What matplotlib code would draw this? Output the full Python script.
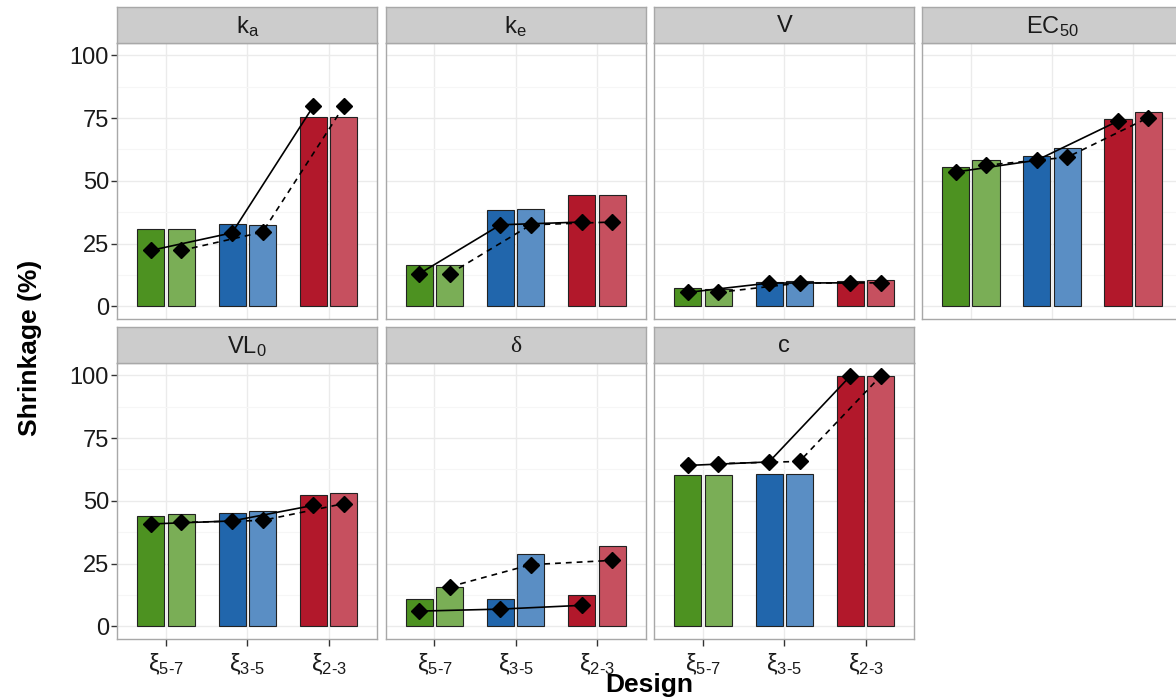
import matplotlib
matplotlib.use('Agg')
import matplotlib.pyplot as plt
import numpy as np

plt.rcParams['mathtext.fontset'] = 'custom'
plt.rcParams['mathtext.rm'] = 'Liberation Sans'
plt.rcParams['mathtext.it'] = 'Liberation Sans:italic'
plt.rcParams['mathtext.bf'] = 'Liberation Sans:bold'
plt.rcParams['font.family'] = ['Liberation Sans', 'DejaVu Sans']

# ---------------- data ----------------
parameters = [r'$\mathrm{k_a}$', r'$\mathrm{k_e}$', 'V', r'$\mathrm{EC_{50}}$',
              r'$\mathrm{VL_0}$', 'δ', 'c']
designs = [r'$\mathrm{ξ}_{5\text{-}7}$', r'$\mathrm{ξ}_{3\text{-}5}$', r'$\mathrm{ξ}_{2\text{-}3}$']

# bar heights, first (dark) and second (light) variant, per parameter
bars_1 = [[30.9, 32.7, 75.6], [16.3, 38.5, 44.5], [7.3, 9.7, 10.2], [55.6, 59.9, 74.8],
          [44.0, 45.3, 52.2], [10.9, 10.9, 12.7], [60.2, 60.7, 99.9]]
bars_2 = [[30.9, 32.5, 75.6], [16.3, 38.8, 44.5], [6.9, 10.0, 10.4], [58.2, 62.9, 77.4],
          [44.8, 46.1, 53.1], [15.8, 28.7, 32.1], [60.2, 60.8, 99.9]]
# diamond points (solid line / dashed line)
points_1 = [[22.3, 29.3, 79.7], [13.0, 32.5, 33.6], [5.6, 9.3, 9.4], [53.5, 58.2, 73.8],
            [40.8, 42.0, 48.2], [6.1, 6.9, 8.4], [64.1, 65.5, 99.7]]
points_2 = [[22.3, 29.6, 79.7], [13.0, 32.5, 33.6], [5.6, 9.3, 9.4], [56.2, 59.4, 75.2],
            [41.4, 42.2, 48.9], [15.8, 24.6, 26.3], [64.8, 65.7, 99.7]]

dark_colors = ['#4d9221', '#2166ac', '#b2182b']
light_colors = ['#7aae56', '#5a8ec4', '#c6505f']
y_ticks = [0, 25, 50, 75, 100]

# ---------------- layout ----------------
W, H = 1176, 699
fig = plt.figure(figsize=(W / 100, H / 100), dpi=100)
col_left = [117.3, 385.7, 654.3, 922.0]
pw, ph = 260.0, 276.3
strip_h = 35.4
row_strip_top = [7.3, 327.3]
border = '#a8a8a8'

x = np.arange(1, 4)
off = 0.1875
bw = 0.333

for i, name in enumerate(parameters):
    r, c = divmod(i, 4)
    left = col_left[c]
    top = row_strip_top[r] + strip_h
    ax = fig.add_axes([left / W, 1 - (top + ph) / H, pw / W, ph / H])
    sax = fig.add_axes([left / W, 1 - top / H, pw / W, strip_h / H])

    # strip
    sax.set_facecolor('#cccccc')
    sax.set_xticks([]); sax.set_yticks([])
    for sp in sax.spines.values():
        sp.set_color(border); sp.set_linewidth(1.0)
    fam = ['Liberation Serif'] if name == 'δ' else ['Liberation Sans', 'DejaVu Sans']
    sax.text(0.5, 0.47, name, ha='center', va='center', fontsize=17,
             color='#1a1a1a', family=fam, transform=sax.transAxes)

    # panel
    ax.set_xlim(0.4, 3.6)
    ax.set_ylim(-5, 105)
    ax.set_xticks(x)
    ax.set_yticks(y_ticks)
    ax.set_yticks([12.5, 37.5, 62.5, 87.5], minor=True)
    ax.set_xticks([], minor=True)
    ax.grid(which='major', color='#ebebeb', lw=1.0, zorder=0)
    ax.grid(which='minor', axis='y', color='#f6f6f6', lw=0.8, zorder=0)
    ax.set_axisbelow(True)
    for sp in ax.spines.values():
        sp.set_color(border); sp.set_linewidth(1.0)

    ax.bar(x - off, bars_1[i], width=bw, color=dark_colors, edgecolor='#222222',
           linewidth=0.8, zorder=2)
    ax.bar(x + off, bars_2[i], width=bw, color=light_colors, edgecolor='#222222',
           linewidth=0.8, zorder=2)
    ax.plot(x - off, points_1[i], color='black', lw=1.2, zorder=3)
    ax.plot(x + off, points_2[i], color='black', lw=1.2, ls=(0, (3.5, 3)), zorder=3)
    ax.plot(x - off, points_1[i], ls='none', marker='D', ms=8.5, color='black', zorder=4)
    ax.plot(x + off, points_2[i], ls='none', marker='D', ms=8.5, color='black', zorder=4)

    ax.tick_params(which='minor', length=0)
    if c == 0:
        ax.set_yticklabels([str(t) for t in y_ticks])
        ax.tick_params(axis='y', length=4, width=1, color='#333333', labelsize=17,
                       labelcolor='#1a1a1a', pad=2)
    else:
        ax.tick_params(axis='y', length=0, labelleft=False)
    if r == 1:
        ax.set_xticklabels(designs)
        ax.tick_params(axis='x', length=5, width=1, color='#333333', labelsize=17,
                       labelcolor='#1a1a1a', pad=4)
    else:
        ax.tick_params(axis='x', length=0, labelbottom=False)

fig.text(30 / W, 1 - 348 / H, 'Shrinkage (%)', rotation=90, ha='center', va='center',
         fontsize=19, fontweight='bold', color='black')
fig.text(649 / W, 1 - 692 / H, 'Design', ha='center', va='baseline',
         fontsize=19, fontweight='bold', color='black')

fig.savefig('out.png', dpi=100)
